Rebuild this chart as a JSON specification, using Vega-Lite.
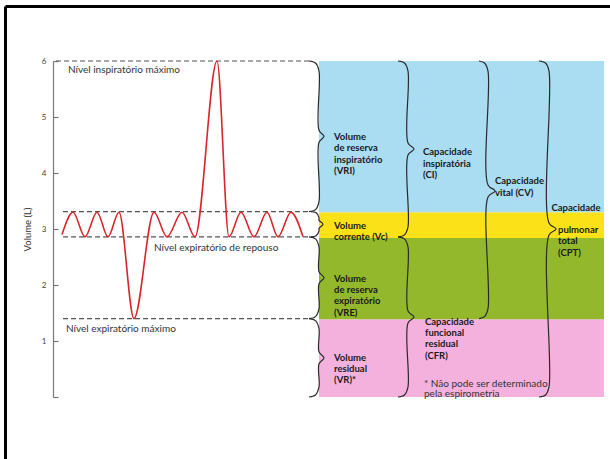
{
  "$schema": "https://vega.github.io/schema/vega-lite/v6.json",
  "width": 553,
  "height": 336,
  "padding": {"left": 3, "top": 4, "right": 0, "bottom": 0},
  "background": "white",
  "config": {
    "view": {"stroke": null},
    "font": "Lato",
    "axisY": {"grid": false,
      "domainColor": "#777", "domainWidth": 1.2, "tickColor": "#777", "tickSize": -5, "tickWidth": 1.2,
      "labelPadding": 12, "labelFontSize": 8, "labelColor": "#444",
      "titleFontSize": 9.5, "titleFontWeight": "normal", "titleColor": "#333", "titlePadding": 9}
  },
  "datasets": {
    "bands": [
      {"band": "VR", "lo": 0, "hi": 1.39},
      {"band": "VRE", "lo": 1.39, "hi": 2.84},
      {"band": "Vc", "lo": 2.84, "hi": 3.3},
      {"band": "VRI", "lo": 3.3, "hi": 6.0}
    ],
    "levels": [
      {"level": "Nível inspiratório máximo", "v": 6.0},
      {"level": "topo do volume corrente", "v": 3.31},
      {"level": "Nível expiratório de repouso", "v": 2.86},
      {"level": "Nível expiratório máximo", "v": 1.40}
    ],
    "breath": [
      {"t": 0.9, "v": 2.9},
      {"t": 2.0, "v": 3.3},
      {"t": 3.2, "v": 2.86},
      {"t": 4.4, "v": 3.3},
      {"t": 5.5, "v": 2.86},
      {"t": 6.6, "v": 3.3},
      {"t": 8.1, "v": 1.40},
      {"t": 10.1, "v": 3.3},
      {"t": 11.4, "v": 2.86},
      {"t": 12.9, "v": 3.3},
      {"t": 14.2, "v": 2.86},
      {"t": 16.4, "v": 6.0},
      {"t": 17.6, "v": 2.86},
      {"t": 18.8, "v": 3.3},
      {"t": 20.1, "v": 2.86},
      {"t": 21.4, "v": 3.3},
      {"t": 22.5, "v": 2.86},
      {"t": 23.8, "v": 3.3},
      {"t": 25.0, "v": 2.86}
    ],
    "braces": [
      {"b": "VRI", "i": 1, "x": 25.6, "y": 6.0},
      {"b": "VRI", "i": 2, "x": 26.25, "y": 5.964},
      {"b": "VRI", "i": 3, "x": 26.6, "y": 5.821},
      {"b": "VRI", "i": 4, "x": 26.6, "y": 4.762},
      {"b": "VRI", "i": 5, "x": 27.1, "y": 4.655},
      {"b": "VRI", "i": 6, "x": 26.6, "y": 4.548},
      {"b": "VRI", "i": 7, "x": 26.6, "y": 3.489},
      {"b": "VRI", "i": 8, "x": 26.25, "y": 3.346},
      {"b": "VRI", "i": 9, "x": 25.6, "y": 3.31},
      {"b": "Vc", "i": 1, "x": 25.8, "y": 3.31},
      {"b": "Vc", "i": 2, "x": 26.32, "y": 3.289},
      {"b": "Vc", "i": 3, "x": 26.6, "y": 3.203},
      {"b": "Vc", "i": 4, "x": 26.6, "y": 3.156},
      {"b": "Vc", "i": 5, "x": 27.0, "y": 3.085},
      {"b": "Vc", "i": 6, "x": 26.6, "y": 3.014},
      {"b": "Vc", "i": 7, "x": 26.6, "y": 2.967},
      {"b": "Vc", "i": 8, "x": 26.32, "y": 2.881},
      {"b": "Vc", "i": 9, "x": 25.8, "y": 2.86},
      {"b": "VRE", "i": 1, "x": 25.6, "y": 2.86},
      {"b": "VRE", "i": 2, "x": 26.25, "y": 2.824},
      {"b": "VRE", "i": 3, "x": 26.6, "y": 2.681},
      {"b": "VRE", "i": 4, "x": 26.6, "y": 2.237},
      {"b": "VRE", "i": 5, "x": 27.1, "y": 2.13},
      {"b": "VRE", "i": 6, "x": 26.6, "y": 2.023},
      {"b": "VRE", "i": 7, "x": 26.6, "y": 1.579},
      {"b": "VRE", "i": 8, "x": 26.25, "y": 1.436},
      {"b": "VRE", "i": 9, "x": 25.6, "y": 1.40},
      {"b": "VR", "i": 1, "x": 25.6, "y": 1.40},
      {"b": "VR", "i": 2, "x": 26.25, "y": 1.364},
      {"b": "VR", "i": 3, "x": 26.6, "y": 1.221},
      {"b": "VR", "i": 4, "x": 26.6, "y": 0.807},
      {"b": "VR", "i": 5, "x": 27.1, "y": 0.70},
      {"b": "VR", "i": 6, "x": 26.6, "y": 0.593},
      {"b": "VR", "i": 7, "x": 26.6, "y": 0.179},
      {"b": "VR", "i": 8, "x": 26.25, "y": 0.036},
      {"b": "VR", "i": 9, "x": 25.6, "y": 0.0},
      {"b": "CI", "i": 1, "x": 34.5, "y": 6.0},
      {"b": "CI", "i": 2, "x": 35.15, "y": 5.964},
      {"b": "CI", "i": 3, "x": 35.5, "y": 5.821},
      {"b": "CI", "i": 4, "x": 35.5, "y": 4.537},
      {"b": "CI", "i": 5, "x": 36.1, "y": 4.43},
      {"b": "CI", "i": 6, "x": 35.5, "y": 4.323},
      {"b": "CI", "i": 7, "x": 35.5, "y": 3.039},
      {"b": "CI", "i": 8, "x": 35.15, "y": 2.896},
      {"b": "CI", "i": 9, "x": 34.5, "y": 2.86},
      {"b": "CFR", "i": 1, "x": 34.5, "y": 2.86},
      {"b": "CFR", "i": 2, "x": 35.15, "y": 2.824},
      {"b": "CFR", "i": 3, "x": 35.5, "y": 2.681},
      {"b": "CFR", "i": 4, "x": 35.5, "y": 1.537},
      {"b": "CFR", "i": 5, "x": 36.1, "y": 1.43},
      {"b": "CFR", "i": 6, "x": 35.5, "y": 1.323},
      {"b": "CFR", "i": 7, "x": 35.5, "y": 0.179},
      {"b": "CFR", "i": 8, "x": 35.15, "y": 0.036},
      {"b": "CFR", "i": 9, "x": 34.5, "y": 0.0},
      {"b": "CV", "i": 1, "x": 42.6, "y": 6.0},
      {"b": "CV", "i": 2, "x": 43.15, "y": 5.964},
      {"b": "CV", "i": 3, "x": 43.5, "y": 5.821},
      {"b": "CV", "i": 4, "x": 43.5, "y": 3.787},
      {"b": "CV", "i": 5, "x": 44.2, "y": 3.68},
      {"b": "CV", "i": 6, "x": 43.5, "y": 3.573},
      {"b": "CV", "i": 7, "x": 43.5, "y": 1.579},
      {"b": "CV", "i": 8, "x": 43.15, "y": 1.436},
      {"b": "CV", "i": 9, "x": 42.6, "y": 1.40},
      {"b": "CPT", "i": 1, "x": 48.6, "y": 6.0},
      {"b": "CPT", "i": 2, "x": 49.25, "y": 5.964},
      {"b": "CPT", "i": 3, "x": 49.6, "y": 5.821},
      {"b": "CPT", "i": 4, "x": 49.6, "y": 3.107},
      {"b": "CPT", "i": 5, "x": 50.3, "y": 3.0},
      {"b": "CPT", "i": 6, "x": 49.6, "y": 2.893},
      {"b": "CPT", "i": 7, "x": 49.6, "y": 0.179},
      {"b": "CPT", "i": 8, "x": 49.25, "y": 0.036},
      {"b": "CPT", "i": 9, "x": 48.6, "y": 0.0}
    ],
    "levelLabels": [
      {"text": "Nível inspiratório máximo", "x": 1.5, "y": 5.845},
      {"text": "Nível expiratório de repouso", "x": 10.1, "y": 2.66},
      {"text": "Nível expiratório máximo", "x": 1.3, "y": 1.22}
    ],
    "boxLabels": [
      {"text": "Volume\nde reserva\ninspiratório\n(VRI)", "x": 28.1, "y": 4.64},
      {"text": "Volume\ncorrente (Vc)", "x": 28.1, "y": 3.05},
      {"text": "Volume\nde reserva\nexpiratório\n(VRE)", "x": 28.1, "y": 2.11},
      {"text": "Volume\nresidual\n(VR)*", "x": 28.1, "y": 0.705},
      {"text": "Capacidade\ninspiratória\n(CI)", "x": 37.0, "y": 4.37},
      {"text": "Capacidade\nfuncional\nresidual\n(CFR)", "x": 37.2, "y": 1.345},
      {"text": "Capacidade\nvital (CV)", "x": 44.2, "y": 3.85},
      {"text": "Capacidade", "x": 49.85, "y": 3.38},
      {"text": "pulmonar\ntotal\n(CPT)", "x": 50.5, "y": 2.98}
    ],
    "notes": [
      {"text": "* Não pode ser determinado\npela espirometria", "x": 37.1, "y": 0.24}
    ],
    "frame": [
      {"part": "moldura"}
    ]
  },
  "layer": [
    {
      "data": {"name": "bands"},
      "mark": {"type": "rect"},
      "encoding": {
        "x": {"datum": 26.6, "type": "quantitative", "scale": {"domain": [0, 55.3], "nice": false, "zero": false}, "axis": null},
        "x2": {"datum": 55.1},
        "y": {"field": "lo", "type": "quantitative", "scale": {"domain": [0, 6], "nice": false, "zero": false}, "title": "Volume (L)",
          "axis": {"values": [0, 1, 2, 3, 4, 5, 6], "format": "d", "labelExpr": "datum.value == 0 ? '' : datum.label", "title": "Volume (L)"}},
        "y2": {"field": "hi"},
        "color": {"field": "band", "type": "nominal",
          "scale": {"domain": ["VR", "VRE", "Vc", "VRI"], "range": ["#f5b1dd", "#93b82c", "#fbe218", "#aadcf2"]},
          "legend": null}
      }
    },
    {
      "data": {"name": "levels"},
      "transform": [{"filter": "datum.v < 6"}],
      "mark": {"type": "rule", "color": "#555", "strokeWidth": 1.2, "strokeDash": [5, 3]},
      "encoding": {
        "x": {"datum": 1.0, "type": "quantitative", "scale": {"domain": [0, 55.3], "nice": false, "zero": false}, "axis": null},
        "x2": {"datum": 25.8},
        "y": {"field": "v", "type": "quantitative", "scale": {"domain": [0, 6], "nice": false, "zero": false}, "title": "Volume (L)"}
      }
    },
    {
      "data": {"name": "levels"},
      "transform": [{"filter": "datum.v >= 6"}],
      "mark": {"type": "rule", "color": "#555", "strokeWidth": 1.2, "strokeDash": [5, 3]},
      "encoding": {
        "x": {"datum": 0.3, "type": "quantitative", "scale": {"domain": [0, 55.3], "nice": false, "zero": false}, "axis": null},
        "x2": {"datum": 25.6},
        "y": {"field": "v", "type": "quantitative", "scale": {"domain": [0, 6], "nice": false, "zero": false}, "title": "Volume (L)"}
      }
    },
    {
      "data": {"name": "breath"},
      "mark": {"type": "line", "color": "#d8262a", "strokeWidth": 1.6, "interpolate": "monotone"},
      "encoding": {
        "x": {"field": "t", "type": "quantitative", "scale": {"domain": [0, 55.3], "nice": false, "zero": false}, "axis": null},
        "y": {"field": "v", "type": "quantitative", "scale": {"domain": [0, 6], "nice": false, "zero": false}, "title": "Volume (L)"}
      }
    },
    {
      "data": {"name": "braces"},
      "mark": {"type": "line", "color": "#2a2a2a", "strokeWidth": 1.2, "interpolate": "catmull-rom"},
      "encoding": {
        "x": {"field": "x", "type": "quantitative", "scale": {"domain": [0, 55.3], "nice": false, "zero": false}, "axis": null},
        "y": {"field": "y", "type": "quantitative", "scale": {"domain": [0, 6], "nice": false, "zero": false}, "title": "Volume (L)"},
        "detail": {"field": "b", "type": "nominal"},
        "order": {"field": "i", "type": "quantitative"}
      }
    },
    {
      "data": {"name": "levelLabels"},
      "mark": {"type": "text", "align": "left", "baseline": "middle", "fontSize": 10, "color": "#333"},
      "encoding": {
        "x": {"field": "x", "type": "quantitative", "scale": {"domain": [0, 55.3], "nice": false, "zero": false}, "axis": null},
        "y": {"field": "y", "type": "quantitative", "scale": {"domain": [0, 6], "nice": false, "zero": false}, "title": "Volume (L)"},
        "text": {"field": "text"}
      }
    },
    {
      "data": {"name": "boxLabels"},
      "mark": {"type": "text", "align": "left", "baseline": "middle", "fontSize": 9.5, "fontWeight": "bold", "color": "#1a1a1a", "lineBreak": "\n", "lineHeight": 11.3},
      "encoding": {
        "x": {"field": "x", "type": "quantitative", "scale": {"domain": [0, 55.3], "nice": false, "zero": false}, "axis": null},
        "y": {"field": "y", "type": "quantitative", "scale": {"domain": [0, 6], "nice": false, "zero": false}, "title": "Volume (L)"},
        "text": {"field": "text"}
      }
    },
    {
      "data": {"name": "notes"},
      "mark": {"type": "text", "align": "left", "baseline": "middle", "fontSize": 10, "color": "#333", "lineBreak": "\n", "lineHeight": 10.5},
      "encoding": {
        "x": {"field": "x", "type": "quantitative", "scale": {"domain": [0, 55.3], "nice": false, "zero": false}, "axis": null},
        "y": {"field": "y", "type": "quantitative", "scale": {"domain": [0, 6], "nice": false, "zero": false}, "title": "Volume (L)"},
        "text": {"field": "text"}
      }
    },
    {
      "data": {"name": "frame"},
      "mark": {"type": "rule", "color": "#000", "strokeWidth": 3},
      "encoding": {
        "x": {"datum": -4.75, "type": "quantitative", "scale": {"domain": [0, 55.3], "nice": false, "zero": false}, "axis": null},
        "y": {"datum": 6.975, "type": "quantitative", "scale": {"domain": [0, 6], "nice": false, "zero": false}, "title": "Volume (L)"},
        "y2": {"datum": -1.5}
      }
    },
    {
      "data": {"name": "frame"},
      "mark": {"type": "rule", "color": "#000", "strokeWidth": 3},
      "encoding": {
        "x": {"datum": -4.75, "type": "quantitative", "scale": {"domain": [0, 55.3], "nice": false, "zero": false}, "axis": null},
        "x2": {"datum": 57},
        "y": {"datum": 6.975, "type": "quantitative", "scale": {"domain": [0, 6], "nice": false, "zero": false}, "title": "Volume (L)"}
      }
    }
  ]
}
